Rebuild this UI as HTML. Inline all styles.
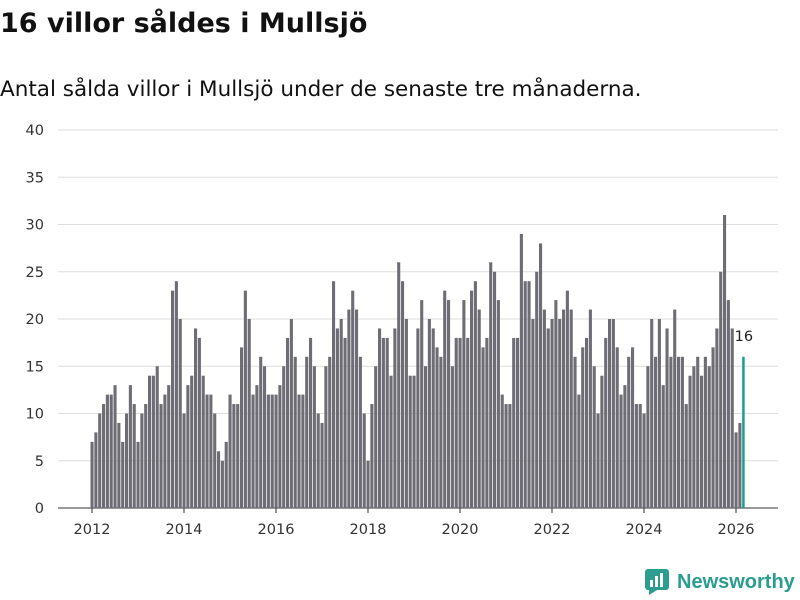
<!DOCTYPE html>
<html><head><meta charset="utf-8"><style>
body{margin:0;width:800px;height:600px;background:#fff;font-family:"DejaVu Sans","Liberation Sans",sans-serif;overflow:hidden;position:relative}
h1{position:absolute;left:0;top:8px;margin:0;font-size:27px;font-weight:bold;color:#111}
p{position:absolute;left:0;top:77px;margin:0;font-size:21.5px;color:#111}
</style></head><body>
<h1>16 villor såldes i Mullsjö</h1>
<p>Antal sålda villor i Mullsjö under de senaste tre månaderna.</p>
<svg id="c" width="800" height="600" style="position:absolute;left:0;top:0;font-family:'DejaVu Sans',sans-serif"></svg>
<div style="position:absolute;left:645px;top:569px;display:flex;align-items:center">
<svg width="24" height="26"><rect x="0" y="0" width="24" height="21" rx="3" fill="#2a9d8f"/><polygon points="4,21 12,21 4,26" fill="#2a9d8f"/><rect x="5" y="11" width="3" height="7" fill="#fff"/><rect x="10" y="7" width="3" height="11" fill="#fff"/><rect x="15" y="4" width="3" height="14" fill="#fff"/></svg>
<span style="font-size:20px;font-weight:bold;color:#2a9d8f;margin-left:8px;font-family:'Liberation Sans',sans-serif">Newsworthy</span></div>
<script>
const startYear = 2012;
const yTicks = [0,5,10,15,20,25,30,35,40];
const xTickYears = [2012,2014,2016,2018,2020,2022,2024,2026];
const values = [
7,8,10,11,12,12,13,9,7,10,13,11,
7,10,11,14,14,15,11,12,13,23,24,20,
10,13,14,19,18,14,12,12,10,6,5,7,
12,11,11,17,23,20,12,13,16,15,12,12,
12,13,15,18,20,16,12,12,16,18,15,10,
9,15,16,24,19,20,18,21,23,21,16,10,
5,11,15,19,18,18,14,19,26,24,20,14,
14,19,22,15,20,19,17,16,23,22,15,18,
18,22,18,23,24,21,17,18,26,25,22,12,
11,11,18,18,29,24,24,20,25,28,21,19,
20,22,20,21,23,21,16,12,17,18,21,15,
10,14,18,20,20,17,12,13,16,17,11,11,
10,15,20,16,20,13,19,16,21,16,16,11,
14,15,16,14,16,15,17,19,25,31,22,19,
8,9,16];
const NS="http://www.w3.org/2000/svg";
const svg=document.getElementById('c');
const x0=92, perYear=46, y0=508, yMax=40, yTop=130;
const xs=m=>x0+m*perYear/12;
const ys=v=>y0-(v/yMax)*(y0-yTop);
function el(t,a){const e=document.createElementNS(NS,t);for(const k in a)e.setAttribute(k,a[k]);svg.appendChild(e);return e;}
yTicks.forEach(t=>{
  const g=el('line',{x1:58,x2:778,y1:ys(t),y2:ys(t),stroke:t===0?'#333':'#ddd','stroke-width':1});
  
  
  const l=el('text',{x:44,y:ys(t)+5,'text-anchor':'end','font-size':14.5,fill:'#333'});
  l.textContent=t;
  
  
});
values.forEach((v,i)=>{
  const last=i===values.length-1;
  const b=el('rect',{x:xs(i)-1.5,y:ys(v),width:last?2.5:3.1,height:y0-ys(v),fill:last?'#1a9e96':'#6e6d75'});
  
  
});
const li=values.length-1;
const vl=el('text',{x:xs(li)-9,y:ys(values[li])-16,'font-size':14.5,fill:'#222'});
vl.textContent=values[li];


xTickYears.forEach(yr=>{
  const x=xs((yr-startYear)*12);
  const t=el('line',{x1:x,x2:x,y1:y0,y2:y0+5,stroke:'#333'});
  
  
  const l=el('text',{x:x,y:y0+26,'text-anchor':'middle','font-size':14.5,fill:'#333'});
  l.textContent=yr;
  
  
});
</script>
</body></html>
